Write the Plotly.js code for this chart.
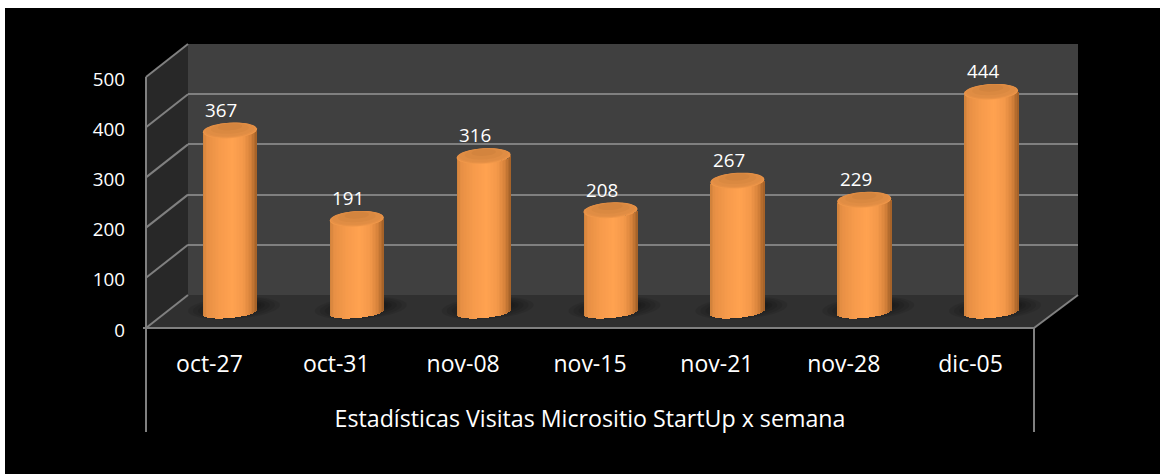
<!DOCTYPE html>
<html><head><meta charset="utf-8">
<script src="https://cdn.plot.ly/plotly-3.0.1.min.js"></script>
<style>html,body{margin:0;padding:0;background:#fff;overflow:hidden}#c{position:absolute;left:5px;top:8px;width:1155px;height:466px}</style>
</head><body><div id="c"></div>
<script>
const categories = ["oct-27","oct-31","nov-08","nov-15","nov-21","nov-28","dic-05"];
const visits = [367,191,316,208,267,229,444];
const yTicks = [0,100,200,300,400,500];
const xTitle = "Estadísticas Visitas Micrositio StartUp x semana";

const W=1155,H=466,OX=5,OY=8;
const fx=p=>(p-OX)/W, fy=p=>1-(p-OY)/H;
const FONT="'Open Sans', sans-serif", FS=18.8, FS_CAT=23, FS_TITLE=23.2;
const GRID="#808080";
const BACK=[188,1078,295,44], FRONT=[146,1034,328,77];
const BAR_L=166.5,BAR_R=1054.5,BAR_Y0=315,PX_PER_UNIT=0.502,BAR_FLOOR=-30;
const BAR_BOTTOM=BAR_Y0+(-BAR_FLOOR)*PX_PER_UNIT, BAR_TOP=BAR_Y0-500*PX_PER_UNIT;
const PX_PER_CAT=(BAR_R-BAR_L)/7;

const line=(x0,y0,x1,y1)=>({type:'line',xref:'paper',yref:'paper',x0:fx(x0),y0:fy(y0),x1:fx(x1),y1:fy(y1),layer:'below',line:{color:GRID,width:2}});
const poly=(pts,c)=>({type:'path',xref:'paper',yref:'paper',layer:'below',line:{width:0},fillcolor:c,
  path:'M'+pts.map(p=>fx(p[0])+','+fy(p[1])).join('L')+'Z'});
const ell=(cx,cy,rx,ry,tilt)=>{let s=[];for(let a=0;a<48;a++){const q=a/48*2*Math.PI,c=Math.cos(q);
  s.push((cx+rx*c).toFixed(4)+','+(cy+ry*Math.sin(q)+tilt*c).toFixed(3));}return 'M'+s.join('L')+'Z';};

const shapes=[
  poly([[188,44],[1078,44],[1078,295],[188,295]],'#404040'),
  poly([[146,77],[188,44],[188,295],[146,328]],'#282828'),
  poly([[146,328],[188,295],[1078,295],[1034,328]],'#303030'),
  line(146,77,146,432), line(1034,328,1034,432), line(143,328,1034,328), line(1034,328,1078,295)
];
yTicks.forEach(v=>{const a=FRONT[2]+(FRONT[3]-FRONT[2])*v/500,b=BACK[2]+(BACK[3]-BACK[2])*v/500;shapes.push(line(146,a,188,b));});

const PXW=27/PX_PER_CAT;
const U=1/PX_PER_UNIT;
// floor shadows
visits.forEach((v,i)=>{[[46,11],[41,10],[36,8.5],[31,7],[27,6]].forEach(s=>{
  shapes.push({type:'path',xref:'x3',yref:'y3',layer:'below',line:{width:0},fillcolor:'rgba(0,0,0,0.09)',
    path:ell(i+4/PX_PER_CAT,7*U,s[0]/PX_PER_CAT,s[1]*U,3*U)});});});
// caps
const capRY=7.5*U,capTilt=1.5*U;
const capLayers=[[1,0,'#f0984a'],[0.98,0.1,'#e69046'],[0.9,0.16,'#e08d44'],[0.7,0.3,'#da8941'],[0.45,0.52,'#d3843e']];
visits.forEach((v,i)=>capLayers.forEach(l=>{
  shapes.push({type:'path',xref:'x3',yref:'y3',layer:'above',line:{width:0},fillcolor:l[2],
    path:ell(i,v+l[1]*capRY,PXW*l[0],capRY*l[0],capTilt*l[0])});}));

const stops=[[-1,[205,128,58]],[-0.85,[230,143,68]],[-0.4,[246,154,75]],[0.1,[255,162,80]],[0.5,[243,152,74]],[0.78,[214,130,58]],[1,[160,94,38]]];
const colorAt=t=>{for(let k=1;k<stops.length;k++){if(t<=stops[k][0]){const a=stops[k-1],b=stops[k],f=(t-a[0])/(b[0]-a[0]);
  return 'rgb('+a[1].map((c,j)=>Math.round(c+(b[1][j]-c)*f)).join(',')+')';}}return 'rgb(160,94,38)';};
const traces=[
 {type:'bar',x:categories,y:visits,xaxis:'x',yaxis:'y',opacity:0,hoverinfo:'skip',showlegend:false},
 {type:'bar',x:categories,y:visits,xaxis:'x2',yaxis:'y2',opacity:0,hoverinfo:'skip',showlegend:false}
];
const N=36,SW=2*PXW/N;
for(let k=0;k<N;k++){
  const t=-1+(k+0.5)*2/N, r=Math.sqrt(1-t*t);
  const bases=visits.map(()=>(5+5*t-11*r));
  const tops=visits.map(v=>v+capTilt*t-capRY*r*0.9);
  traces.push({type:'bar',x:categories,base:bases,y:tops.map((y,i)=>y-bases[i]),
    width:SW*1.35,offset:-PXW+k*SW,xaxis:'x3',yaxis:'y3',marker:{color:colorAt(t),line:{width:0}},hoverinfo:'skip',showlegend:false});
}
const annotations=visits.map((v,i)=>({xref:'x3',yref:'y3',x:categories[i],y:v,text:String(v),showarrow:false,xshift:-8.5,yshift:21,
  font:{family:FONT,size:FS,color:'#fff'}}));

const base={showline:false,zeroline:false,ticks:''};
const layout={width:W,height:H,margin:{l:0,r:0,t:0,b:0},paper_bgcolor:'#000',plot_bgcolor:'rgba(0,0,0,0)',
  barmode:'overlay',bargap:0,showlegend:false,shapes,annotations,
  xaxis:{...base,type:'category',categoryorder:'array',categoryarray:categories,domain:[fx(BACK[0]),fx(BACK[1])],range:[-0.5,6.5],anchor:'y',showgrid:false,showticklabels:false},
  yaxis:{...base,domain:[fy(BACK[2]),fy(BACK[3])],range:[0,500],anchor:'x',tickvals:yTicks,showgrid:true,gridcolor:GRID,gridwidth:2,showticklabels:false},
  xaxis2:{...base,type:'category',categoryorder:'array',categoryarray:categories,domain:[fx(FRONT[0]),fx(FRONT[1])],range:[-0.5,6.5],anchor:'y2',showgrid:false,
    tickfont:{family:FONT,size:FS_CAT,color:'#fff'},ticklabelstandoff:20,
    title:{text:xTitle,font:{family:FONT,size:FS_TITLE,color:'#fff'},standoff:32}},
  yaxis2:{...base,domain:[fy(FRONT[2]),fy(FRONT[3])],range:[0,500],anchor:'x2',tickvals:yTicks,showgrid:false,
    tickfont:{family:FONT,size:FS,color:'#fff'},ticklabelstandoff:20,ticklabelshift:2},
  xaxis3:{...base,type:'category',categoryorder:'array',categoryarray:categories,domain:[fx(BAR_L),fx(BAR_R)],range:[-0.5,6.5],anchor:'y3',showgrid:false,showticklabels:false},
  yaxis3:{...base,domain:[fy(BAR_BOTTOM),fy(BAR_TOP)],range:[BAR_FLOOR,500],anchor:'x3',showgrid:false,showticklabels:false}
};
Plotly.newPlot('c',traces,layout,{displayModeBar:false,staticPlot:true});
</script></body></html>
